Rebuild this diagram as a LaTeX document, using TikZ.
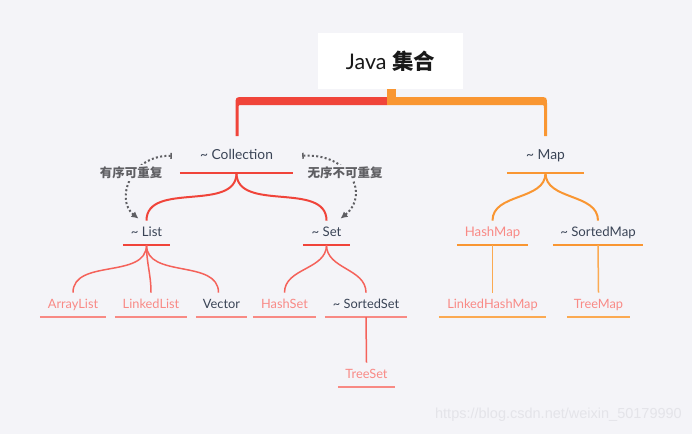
\documentclass[tikz,border=0pt]{standalone}
\usepackage{fontspec}
\setmainfont{Lato}
\newfontfamily\cjk{Noto Sans CJK SC}
\newfontfamily\wmfont{Liberation Sans}
\usetikzlibrary{arrows.meta}
\definecolor{bg}{HTML}{F4F4F8}
\definecolor{cred}{HTML}{F0443A}
\definecolor{cred2}{HTML}{F4625A}
\definecolor{cred3}{HTML}{F88A84}
\definecolor{corg}{HTML}{F99632}
\definecolor{corg2}{HTML}{FBAA52}
\definecolor{tdark}{HTML}{3A4456}
\definecolor{tpink}{HTML}{F98A86}
\definecolor{dgrey}{HTML}{5F5F63}
\definecolor{wmc}{HTML}{E4E4E9}
\tikzset{
  base/.style={inner sep=0pt, text height=9.5pt, text depth=2.5pt, align=center, anchor=south},
  topn/.style={base, minimum height=34pt, font=\fontsize{13.8}{16}\selectfont, text=tdark},
  midn/.style={base, minimum height=24pt, font=\fontsize{13.2}{15}\selectfont},
  leafn/.style={base, minimum height=24pt, font=\fontsize{12.8}{15}\selectfont},
  dk/.style={text=tdark},
  pk/.style={text=tpink},
  ulred/.style={draw=cred, line width=2.5pt},
  ulred2/.style={draw=cred3, line width=1.8pt},
  ulorg/.style={draw=corg, line width=2.5pt},
  ulorg2/.style={draw=corg2, line width=1.8pt},
  cnred/.style={draw=cred, line width=2pt},
  cnred2/.style={draw=cred2, line width=1.5pt},
  cnorg/.style={draw=corg, line width=2pt},
  cnorg2/.style={draw=corg2, line width=1.5pt},
  dotarrow/.style={draw=dgrey, line width=2pt, dash pattern=on 2pt off 2.3pt,
     {Bar[width=6pt,line width=1.5pt]}-{Latex[length=7pt,width=7pt]}},
  lab/.style={fill=bg, inner sep=1.5pt, text=dgrey, font=\cjk\bfseries\fontsize{12.5}{15}\selectfont}
}
\begin{document}
\begin{tikzpicture}[x=1pt,y=-1pt]
\useasboundingbox (0,0) rectangle (692,434);
\fill[bg] (0,0) rectangle (692,434);

% title
\node[fill=white, minimum width=145pt, minimum height=56pt, inner sep=0pt,
      text=black!90, font=\fontsize{21.5}{25}\selectfont] (title) at (390.5,61)
      {Java {\cjk\bfseries 集合}};
\fill[corg] ([xshift=-4pt]title.south) rectangle ++(9.5,8);

% bracket
\fill[cred] (235.5,136) -- (235.5,105) .. controls (235.5,97) .. (243.5,97)
  -- (387,97) -- (387,105) -- (242,105) .. controls (238.5,105) .. (238.5,108.5)
  -- (238.5,136) -- cycle;
\fill[corg] (387,97) -- (539,97) .. controls (547,97) .. (547,105)
  -- (547,136) -- (544,136) -- (544,108.5) .. controls (544,105) .. (540.5,105)
  -- (387,105) -- cycle;

% level 1
\node[topn, minimum width=113pt] (col) at (236.5,173) {\textasciitilde{} Collection};
\node[topn, minimum width=77pt] (map) at (545.5,173) {\textasciitilde{} Map};

% level 2
\node[midn, dk, minimum width=47pt] (lst) at (146.5,245) {\textasciitilde{} List};
\node[midn, dk, minimum width=47pt] (set) at (326.5,245) {\textasciitilde{} Set};
\node[midn, pk, minimum width=71pt] (hmap) at (492.5,245) {HashMap};
\node[midn, dk, minimum width=90pt] (smap) at (598,245) {\textasciitilde{} SortedMap};

% level 3
\node[leafn, pk, minimum width=66pt] (al) at (73,317) {ArrayList};
\node[leafn, pk, minimum width=72pt] (ll) at (151,317) {LinkedList};
\node[leafn, dk, minimum width=51pt] (vec) at (221.5,317) {Vector};
\node[leafn, pk, minimum width=63pt] (hs) at (284.5,317) {HashSet};
\node[leafn, dk, minimum width=82pt] (ss) at (366,317) {\textasciitilde{} SortedSet};
\node[leafn, pk, minimum width=107pt] (lhm) at (492.5,317) {LinkedHashMap};
\node[leafn, pk, minimum width=63pt] (tm) at (598.5,317) {TreeMap};
\node[leafn, pk, minimum width=57pt] (ts) at (366.5,387) {TreeSet};

% underlines
\draw[ulred] (col.south west) -- (col.south east);
\draw[ulorg] (map.south west) -- (map.south east);
\draw[ulred] (lst.south west) -- (lst.south east);
\draw[ulred] (set.south west) -- (set.south east);
\draw[ulorg] (hmap.south west) -- (hmap.south east);
\draw[ulorg] (smap.south west) -- (smap.south east);
\foreach \n in {al,ll,vec,hs,ss,ts} \draw[ulred2] (\n.south west) -- (\n.south east);
\foreach \n in {lhm,tm} \draw[ulorg2] (\n.south west) -- (\n.south east);

% connectors
\draw[cnred] (col.south) to[out=-90,in=90] (lst.north);
\draw[cnred] (col.south) to[out=-90,in=90] (set.north);
\draw[cnorg] (map.south) to[out=-90,in=90] (hmap.north);
\draw[cnorg] (map.south) to[out=-90,in=90] (smap.north);
\draw[cnred2] (lst.south) to[out=-90,in=90] (al.north);
\draw[cnred2] (lst.south) to[out=-90,in=90] (ll.north);
\draw[cnred2] (lst.south) to[out=-90,in=90] ([xshift=-3pt]vec.north);
\draw[cnred2] (set.south) to[out=-90,in=90] (hs.north);
\draw[cnred2] (set.south) to[out=-90,in=90] (ss.north);
\draw[cnred2] (ss.south) -- (ts.north);
\draw[cnorg2] (hmap.south) -- (lhm.north);
\draw[cnorg2] (smap.south) -- (tm.north);

% dotted arrows
\draw[dotarrow] ([xshift=-8pt]col.west) .. controls (130,155) and (115,200) .. ([xshift=-8pt,yshift=2pt]lst.north);
\draw[dotarrow] ([xshift=9pt]col.east) .. controls (350,153) and (370,195) .. ([xshift=14pt,yshift=2pt]set.north);
\node[lab] (l1) at (131,173) {有序可重复};
\node[lab] (l2) at (345,173) {无序不可重复};

% watermark
\node[anchor=east, inner sep=0pt, text=wmc, font=\wmfont\fontsize{14.5}{16}\selectfont] (wm) at (682,415) {https://blog.csdn.net/weixin\_50179990};
\end{tikzpicture}
\end{document}
